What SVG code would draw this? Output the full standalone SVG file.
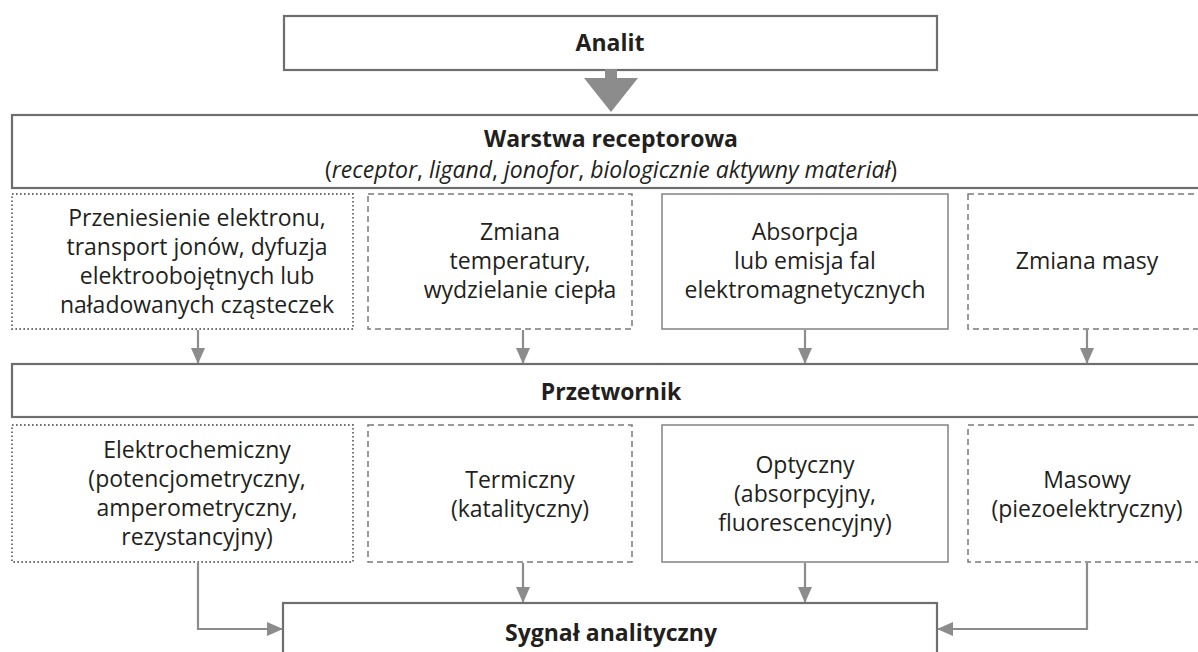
<svg xmlns="http://www.w3.org/2000/svg" width="1198" height="652" viewBox="0 0 1198 652">
  <style>
    .bg { fill: #ffffff; }
    .main { fill: #ffffff; stroke: #6e6e6e; stroke-width: 2.2; }
    .solid { fill: #ffffff; stroke: #8a8a8a; stroke-width: 1.6; }
    .dotted { fill: #ffffff; stroke: #6f6f6f; stroke-width: 1.9; stroke-dasharray: 1.6 2.4; }
    .dashed { fill: #ffffff; stroke: #7a7a7a; stroke-width: 1.5; stroke-dasharray: 6 4; }
    .t { font-family: "Open Sans", "Liberation Sans", sans-serif; font-size: 23px; fill: #231f20; text-anchor: middle; }
    .b { font-family: "Open Sans", "Liberation Sans", sans-serif; font-size: 23px; font-weight: bold; fill: #231f20; text-anchor: middle; }
    .i { font-style: italic; }
    .conn { fill: none; stroke: #8c8c8c; stroke-width: 2.2; }
  </style>
  <defs>
    <marker id="ah" markerUnits="userSpaceOnUse" markerWidth="16" markerHeight="16" viewBox="0 0 16 16" refX="15" refY="8" orient="auto">
      <path d="M0,1 L16,8 L0,15 Z" fill="#8c8c8c"/>
    </marker>
  </defs>
  <rect class="bg" x="0" y="0" width="1198" height="652"/>

  <g id="analit">
    <rect class="main" x="284" y="16" width="653" height="54"/>
    <text class="b" x="610" y="51">Analit</text>
  </g>

  <g id="warstwa-receptorowa">
    <rect class="main" x="12" y="115" width="1200" height="73"/>
    <text class="b" x="611" y="147">Warstwa receptorowa</text>
    <text class="t" x="611" y="178" font-size="22.5">(<tspan class="i">receptor</tspan>, <tspan class="i">ligand</tspan>, <tspan class="i">jonofor</tspan>, <tspan class="i">biologicznie aktywny materiał</tspan>)</text>
  </g>

  <g id="r1-przeniesienie">
    <rect class="dotted" x="12" y="194" width="341" height="135"/>
    <text class="t" x="197" y="226">Przeniesienie elektronu,</text>
    <text class="t" x="197" y="255">transport jonów, dyfuzja</text>
    <text class="t" x="197" y="284">elektroobojętnych lub</text>
    <text class="t" x="197" y="313">naładowanych cząsteczek</text>
  </g>
  <g id="r1-temperatura">
    <rect class="dashed" x="368" y="194" width="264" height="135"/>
    <text class="t" x="520" y="240">Zmiana</text>
    <text class="t" x="520" y="269">temperatury,</text>
    <text class="t" x="520" y="298">wydzielanie ciepła</text>
  </g>
  <g id="r1-absorpcja">
    <rect class="solid" x="662" y="194" width="286" height="135"/>
    <text class="t" x="805" y="240">Absorpcja</text>
    <text class="t" x="805" y="269">lub emisja fal</text>
    <text class="t" x="805" y="298">elektromagnetycznych</text>
  </g>
  <g id="r1-masa">
    <rect class="dashed" x="968" y="194" width="238" height="135"/>
    <text class="t" x="1087" y="269">Zmiana masy</text>
  </g>

  <g id="przetwornik">
    <rect class="main" x="12" y="364" width="1200" height="53"/>
    <text class="b" x="611" y="400">Przetwornik</text>
  </g>

  <g id="r2-elektrochemiczny">
    <rect class="dotted" x="12" y="425" width="341" height="137"/>
    <text class="t" x="197" y="458">Elektrochemiczny</text>
    <text class="t" x="197" y="487">(potencjometryczny,</text>
    <text class="t" x="197" y="516">amperometryczny,</text>
    <text class="t" x="197" y="545">rezystancyjny)</text>
  </g>
  <g id="r2-termiczny">
    <rect class="dashed" x="368" y="425" width="264" height="137"/>
    <text class="t" x="520" y="488">Termiczny</text>
    <text class="t" x="520" y="517">(katalityczny)</text>
  </g>
  <g id="r2-optyczny">
    <rect class="solid" x="662" y="425" width="286" height="137"/>
    <text class="t" x="805" y="473">Optyczny</text>
    <text class="t" x="805" y="502">(absorpcyjny,</text>
    <text class="t" x="805" y="531">fluorescencyjny)</text>
  </g>
  <g id="r2-masowy">
    <rect class="dashed" x="968" y="425" width="238" height="137"/>
    <text class="t" x="1087" y="488">Masowy</text>
    <text class="t" x="1087" y="517">(piezoelektryczny)</text>
  </g>

  <g id="sygnal">
    <rect class="main" x="283" y="603" width="654" height="70"/>
    <text class="b" x="611" y="641">Sygnał analityczny</text>
  </g>

  <g id="connectors">
    <path d="M605,69 H617 V78 H638 L611,112 L584,78 H605 Z" fill="#8c8c8c"/>
    <path class="conn" d="M198,330 V363" marker-end="url(#ah)"/>
    <path class="conn" d="M523,330 V363" marker-end="url(#ah)"/>
    <path class="conn" d="M805,330 V363" marker-end="url(#ah)"/>
    <path class="conn" d="M1087,330 V363" marker-end="url(#ah)"/>
    <path class="conn" d="M523,563 V602" marker-end="url(#ah)"/>
    <path class="conn" d="M805,563 V602" marker-end="url(#ah)"/>
    <path class="conn" d="M198,563 V629 H282" marker-end="url(#ah)"/>
    <path class="conn" d="M1087,563 V629 H938" marker-end="url(#ah)"/>
  </g>
</svg>
